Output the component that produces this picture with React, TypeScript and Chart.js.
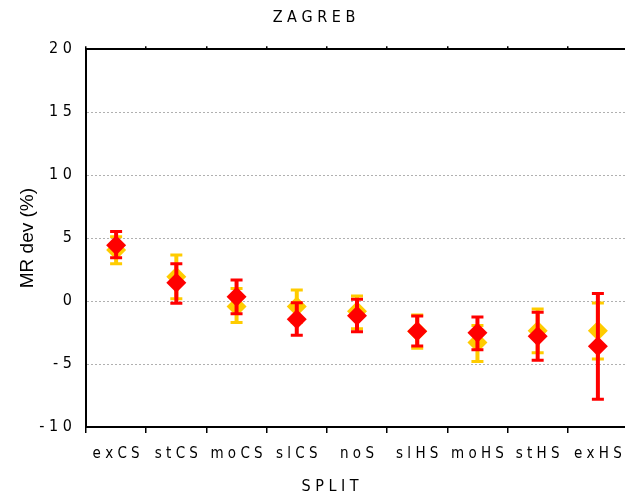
import React, { useEffect, useRef } from "react";
import { Chart, registerables } from "chart.js";

Chart.register(...registerables);

const categories = ["e x C S", "s t C S", "m o C S", "s l C S", "n o S", "s l H S", "m o H S", "s t H S", "e x H S"];
const yTickValues = [-10, -5, 0, 5, 10, 15, 20];
const yTickLabels = ["- 1 0", "- 5", "0", "5", "1 0", "1 5", "2 0"];

const redValues = [4.44, 1.46, 0.35, -1.45, -1.17, -2.4, -2.52, -2.8, -3.58];
const redLow = [3.44, -0.18, -1.0, -2.72, -2.43, -3.57, -3.86, -4.7, -7.8];
const redHigh = [5.53, 2.97, 1.67, -0.13, 0.15, -1.18, -1.26, -0.89, 0.6];

const yellowValues = [4.05, 1.94, -0.44, -0.44, -0.8, -2.4, -3.3, -2.35, -2.35];
const yellowLow = [2.97, 0.19, -1.71, -1.7, -2.2, -3.75, -4.8, -4.1, -4.6];
const yellowHigh = [5.1, 3.65, 1.0, 0.87, 0.4, -1.1, -1.95, -0.63, -0.15];

const titleText = "Z A G R E B";
const xTitleText = "S P L I T";
const yTitleText = "MR dev (%)";

const RED = "#FF0000";
const YELLOW = "#FFCC00";
const NARROW = "'Liberation Sans Narrow', 'Arial Narrow', 'DejaVu Sans Condensed', sans-serif";

const errorBarPlugin = {
  id: "errorBars",
  beforeDatasetDraw(chart: any, args: any) {
    const ds = chart.data.datasets[args.index] as any;
    if (!ds.errLow) return;
    const xs = chart.scales.x;
    const ys = chart.scales.y;
    const ctx = chart.ctx;
    ctx.save();
    ctx.strokeStyle = ds.borderColor;
    for (let j = 0; j < ds.data.length; j++) {
      const x = xs.getPixelForValue(j);
      const yl = ys.getPixelForValue(ds.errLow[j]);
      const yh = ys.getPixelForValue(ds.errHigh[j]);
      ctx.lineWidth = 4;
      ctx.beginPath();
      ctx.moveTo(x, yl);
      ctx.lineTo(x, yh);
      ctx.stroke();
      ctx.lineWidth = 3;
      ctx.beginPath();
      ctx.moveTo(x - 6, yl);
      ctx.lineTo(x + 6, yl);
      ctx.moveTo(x - 6, yh);
      ctx.lineTo(x + 6, yh);
      ctx.stroke();
    }
    ctx.restore();
  },
};

const xTitlePlugin = {
  id: "xTitle",
  afterDraw(chart: any) {
    const ctx = chart.ctx;
    ctx.save();
    ctx.font = `16px ${NARROW}`;
    ctx.fillStyle = "#000";
    ctx.textAlign = "center";
    ctx.textBaseline = "middle";
    ctx.fillText(xTitleText, 330, 487);
    ctx.restore();
  },
};

export default function App() {
  const ref = useRef<HTMLCanvasElement>(null);
  useEffect(() => {
    if (!ref.current) return;
    const chart = new Chart(ref.current, {
      type: "line",
      data: {
        labels: categories,
        datasets: [
          {
            label: "red",
            data: redValues,
            errLow: redLow,
            errHigh: redHigh,
            showLine: false,
            pointStyle: "rectRot",
            pointRadius: 10,
            pointHoverRadius: 10,
            backgroundColor: RED,
            borderColor: RED,
            pointBorderWidth: 0,
          } as any,
          {
            label: "yellow",
            data: yellowValues,
            errLow: yellowLow,
            errHigh: yellowHigh,
            showLine: false,
            pointStyle: "rectRot",
            pointRadius: 10,
            pointHoverRadius: 10,
            backgroundColor: YELLOW,
            borderColor: YELLOW,
            pointBorderWidth: 0,
          } as any,
        ],
      },
      options: {
        responsive: false,
        animation: false,
        layout: { padding: { left: 0, right: 12, top: 0, bottom: 0 } },
        plugins: {
          legend: { display: false },
          tooltip: { enabled: false },
          title: {
            display: true,
            text: titleText,
            color: "#000",
            font: { family: NARROW, size: 16, weight: "normal" },
            padding: { top: 8, bottom: 22 },
          },
        },
        scales: {
          x: {
            type: "category",
            position: "bottom",
            offset: true,
            afterFit: (s: any) => {
              s.height = 71;
            },
            grid: {
              offset: true,
              drawOnChartArea: false,
              drawTicks: true,
              tickLength: 6,
              color: "#000",
              lineWidth: 1.5,
            },
            border: { display: true, color: "#000", width: 2 },
            ticks: {
              color: "#000",
              padding: 12,
              maxRotation: 0,
              autoSkip: false,
              font: { family: NARROW, size: 15 },
            },
          },
          x2: {
            type: "category",
            position: "top",
            labels: categories,
            offset: true,
            afterFit: (s: any) => {
              s.height = 0;
            },
            grid: {
              offset: true,
              drawOnChartArea: false,
              drawTicks: true,
              tickLength: 3,
              color: "#000",
              lineWidth: 1.5,
            },
            border: { display: true, color: "#000", width: 2 },
            ticks: { display: false },
          },
          y: {
            type: "linear",
            min: -10,
            max: 20,
            afterFit: (s: any) => {
              s.width = 86;
            },
            afterBuildTicks: (s: any) => {
              s.ticks = yTickValues.map((v) => ({ value: v }));
            },
            grid: {
              drawTicks: false,
              color: (c: any) =>
                c.tick && (c.tick.value === -10 || c.tick.value === 20) ? "rgba(0,0,0,0)" : "#b0b0b0",
              lineWidth: 1,
            },
            border: { display: true, color: "#000", width: 2, dash: [2, 2] },
            ticks: {
              color: "#000",
              padding: 14,
              font: { family: NARROW, size: 16 },
              callback: (v: any) => {
                const i = yTickValues.indexOf(Number(v));
                return i >= 0 ? yTickLabels[i] : "";
              },
            },
            title: {
              display: true,
              text: yTitleText,
              color: "#000",
              font: { family: "'Liberation Sans', Arial, sans-serif", size: 19 },
              padding: { top: 16, bottom: 0 },
            },
          },
        },
      } as any,
      plugins: [errorBarPlugin, xTitlePlugin],
    });
    return () => chart.destroy();
  }, []);
  return (
    <div
      style={{
        position: "fixed",
        left: 0,
        top: 0,
        width: 625,
        height: 498,
        overflow: "hidden",
        background: "#fff",
      }}
    >
      <canvas ref={ref} width={640} height={498} style={{ display: "block" }} />
    </div>
  );
}
